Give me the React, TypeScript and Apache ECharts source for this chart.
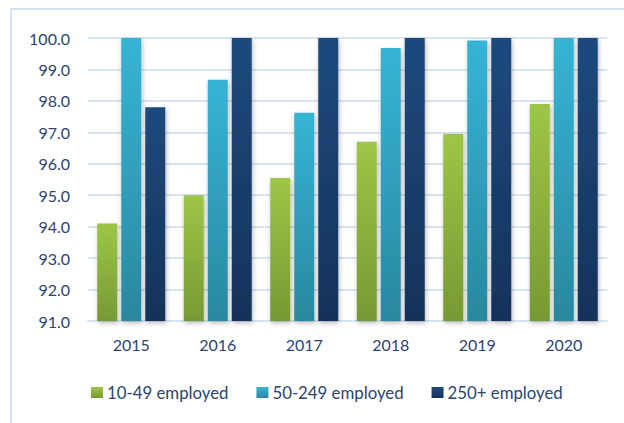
import React, { useEffect, useRef } from "react";
import * as echarts from "echarts";

const years = ["2015", "2016", "2017", "2018", "2019", "2020"];
const small = [94.1, 95.0, 95.55, 96.7, 96.95, 97.9];
const medium = [100.0, 98.67, 97.62, 99.68, 99.92, 100.0];
const large = [97.8, 100.0, 100.0, 100.0, 100.0, 100.0];
const seriesNames = ["10-49 employed", "50-249 employed", "250+ employed"];

const grad = (top: string, bottom: string) =>
  new echarts.graphic.LinearGradient(0, 0, 0, 1, [
    { offset: 0, color: top },
    { offset: 1, color: bottom },
  ]);

export default function App() {
  const ref = useRef<HTMLDivElement>(null);
  useEffect(() => {
    document.body.style.margin = "0";
    const chart = echarts.init(ref.current!, undefined, { renderer: "svg" });
    const font = "Lato, 'Open Sans', sans-serif";
    const barStyle = (top: string, bottom: string) => ({
      color: grad(top, bottom),
      shadowBlur: 5,
      shadowOffsetX: 1,
      shadowOffsetY: 2,
      shadowColor: "rgba(0,0,0,0.28)",
    });
    const mk = (name: string, data: number[], top: string, bottom: string) => ({
      name,
      type: "bar",
      data,
      barWidth: 20,
      barGap: "20%",
      itemStyle: barStyle(top, bottom),
    });
    chart.setOption({
      animation: false,
      textStyle: { fontFamily: font },
      graphic: [
        {
          type: "rect",
          shape: { x: 11, y: 9, width: 700, height: 700 },
          style: { fill: "none", stroke: "#d6e2f2", lineWidth: 2 },
          silent: true,
        },
      ],
      grid: { left: 88, right: 17, top: 38, bottom: 102 },
      legend: {
        left: 86,
        top: 379,
        itemWidth: 12,
        itemHeight: 11,
        itemGap: 28,
        icon: "rect",
        textStyle: { fontFamily: font, fontSize: 16.8, color: "#2b4470", padding: [0, 0, 0, -1] },
        data: seriesNames,
      },
      xAxis: {
        type: "category",
        data: years,
        axisTick: { show: false },
        axisLine: { lineStyle: { color: "#d9e4f2", width: 2 } },
        axisLabel: { fontFamily: font, fontSize: 16, color: "#2b4470", margin: 15 },
      },
      yAxis: {
        type: "value",
        min: 91,
        max: 100,
        interval: 1,
        axisLine: { show: false },
        axisTick: { show: false },
        axisLabel: {
          fontFamily: font,
          fontSize: 16,
          color: "#2b4470",
          margin: 18,
          formatter: (v: number) => v.toFixed(1),
        },
        splitLine: { lineStyle: { color: "#d9e4f2", width: 2 } },
      },
      series: [
        mk(seriesNames[0], small, "#9dc646", "#779934"),
        mk(seriesNames[1], medium, "#36b4d6", "#2a889f"),
        mk(seriesNames[2], large, "#1f4a7e", "#14325a"),
      ],
    });
    return () => chart.dispose();
  }, []);
  return <div ref={ref} style={{ width: 624, height: 423 }} />;
}
